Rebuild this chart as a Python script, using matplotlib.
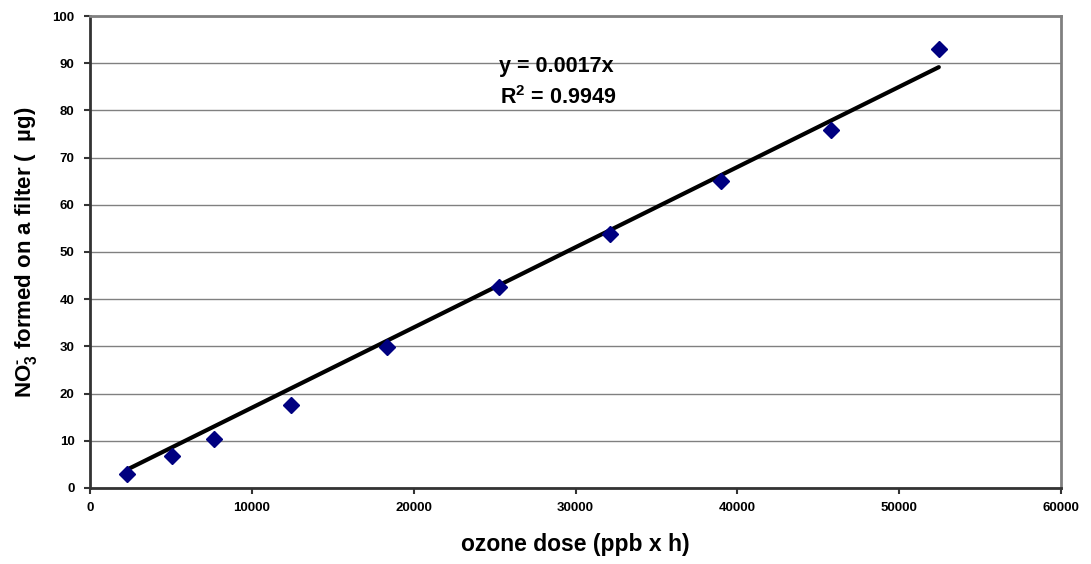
import numpy as np
import matplotlib
matplotlib.use("Agg")
import matplotlib.pyplot as plt

plt.rcParams["font.family"] = ["Liberation Sans", "DejaVu Sans"]
plt.rcParams["mathtext.fontset"] = "custom"
plt.rcParams["mathtext.rm"] = "Liberation Sans:bold"
plt.rcParams["mathtext.bf"] = "Liberation Sans:bold"
plt.rcParams["mathtext.it"] = "Liberation Sans:bold"

# ---- data ----
ozone_dose = [2300, 5050, 7650, 12450, 18350, 25300, 32150, 39000, 45800, 52450]
no3_ug = [2.9, 6.7, 10.4, 17.6, 29.9, 42.6, 53.8, 65.1, 75.8, 93.0]
slope = 0.0017
r2 = 0.9949

x_ticks = [0, 10000, 20000, 30000, 40000, 50000, 60000]
y_ticks = [0, 10, 20, 30, 40, 50, 60, 70, 80, 90, 100]

fig = plt.figure(figsize=(10.91, 5.64), dpi=100)
ax = fig.add_axes([0.0825, 0.1348, 0.89, 0.8368])

x = np.array(ozone_dose)
ax.plot(x, no3_ug, linestyle="none", marker="D", markersize=8,
        color="#000080", zorder=3)
xs = np.array([x.min(), x.max()])
ax.plot(xs, slope * xs, color="black", lw=3, solid_capstyle="round", zorder=2)

ax.set_xlim(0, 60000)
ax.set_ylim(0, 100)
ax.set_xticks(x_ticks)
ax.set_yticks(y_ticks)
ax.set_xticklabels([str(t) for t in x_ticks], fontsize=9.5, fontweight="bold")
ax.set_yticklabels([str(t) for t in y_ticks], fontsize=9.5, fontweight="bold")
ax.tick_params(axis="x", length=4, width=1.5, color="#333333", pad=6)
ax.tick_params(axis="y", length=4, width=1.5, color="#333333", pad=7)
ax.yaxis.grid(True, color="#808080", lw=1)
ax.set_axisbelow(True)

for side in ("left", "bottom"):
    ax.spines[side].set_color("#333333")
    ax.spines[side].set_linewidth(2)
for side in ("right", "top"):
    ax.spines[side].set_color("#808080")
    ax.spines[side].set_linewidth(2)

ax.text(28800, 89.4, f"y = {slope:.4f}x", ha="center", va="center",
        fontsize=15.5, fontweight="bold")
ax.text(28900, 82.8, f"R$^{{2}}$ = {r2:.4f}", ha="center", va="center",
        fontsize=15.5, fontweight="bold")

ax.set_xlabel("ozone dose (ppb x h)", fontsize=16.5, fontweight="bold", labelpad=14)
ax.set_ylabel("NO$_3^{\\text{-}}$ formed on a filter (  \u00b5g)", fontsize=16,
              fontweight="bold", labelpad=10)

fig.savefig("out.png", dpi=100)
